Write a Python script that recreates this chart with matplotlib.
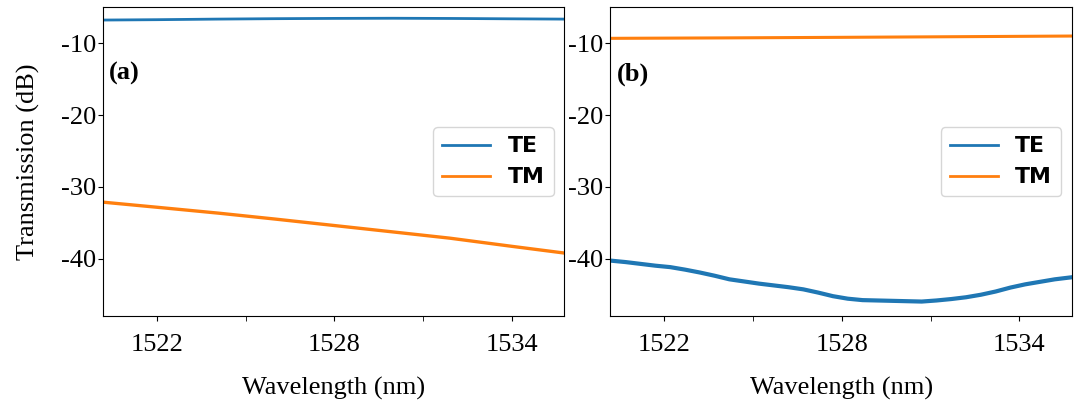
import numpy as np
import matplotlib
matplotlib.use('Agg')
import matplotlib.pyplot as plt

# panel (a)
wl_a = [1520.2, 1522.0, 1524.0, 1526.0, 1528.0, 1530.0, 1532.0, 1534.0, 1535.8]
te_a = [-6.75, -6.70, -6.62, -6.56, -6.52, -6.50, -6.53, -6.58, -6.62]
wl_a_tm = [1520.2, 1522.0, 1524.1, 1526.0, 1528.0, 1530.0, 1531.9, 1534.0, 1535.8]
tm_a = [-32.15, -32.85, -33.68, -34.50, -35.40, -36.30, -37.16, -38.30, -39.25]

# panel (b)
wl_b_tm = [1520.2, 1524.0, 1528.0, 1532.0, 1535.8]
tm_b = [-9.30, -9.24, -9.16, -9.07, -8.98]
wl_b = [1520.2, 1520.7, 1521.2, 1521.7, 1522.2, 1522.7, 1523.2, 1523.7, 1524.2, 1524.7,
        1525.2, 1525.7, 1526.2, 1526.7, 1527.2, 1527.7, 1528.2, 1528.7, 1529.2, 1529.7,
        1530.2, 1530.7, 1531.2, 1531.7, 1532.2, 1532.7, 1533.2, 1533.7, 1534.2, 1534.7,
        1535.2, 1535.8]
te_b = [-40.30, -40.50, -40.75, -41.00, -41.20, -41.55, -41.95, -42.40, -42.90, -43.20,
        -43.50, -43.75, -44.00, -44.30, -44.75, -45.25, -45.60, -45.80, -45.85, -45.90,
        -45.95, -46.00, -45.85, -45.65, -45.40, -45.05, -44.60, -44.05, -43.60, -43.25,
        -42.90, -42.60]

plt.rcParams['axes.unicode_minus'] = False
serif = 'Liberation Serif'

fig, axes = plt.subplots(1, 2, figsize=(10.78, 4.05), dpi=100)
fig.subplots_adjust(left=0.0953, right=0.9944, bottom=0.22, top=0.9815, wspace=0.099)

panels = [
    (axes[0], (wl_a, te_a, 2.0), (wl_a_tm, tm_a, 2.4), '(a)'),
    (axes[1], (wl_b, te_b, 3.0), (wl_b_tm, tm_b, 2.2), '(b)'),
]

for ax, te, tm, tag in panels:
    ax.plot(te[0], te[1], color='#1f77b4', lw=te[2], label='TE')
    ax.plot(tm[0], tm[1], color='#ff7f0e', lw=tm[2], label='TM')
    ax.set_xlim(1520.17, 1535.78)
    ax.set_ylim(-48, -5)
    ax.set_xticks([1522, 1528, 1534])
    ax.set_xticks([1525, 1531], minor=True)
    ax.set_yticks([-10, -20, -30, -40])
    ax.tick_params(which='minor', length=3.5)
    ax.tick_params(axis='x', which='major', pad=9.5)
    ax.tick_params(axis='y', which='major', pad=1.5)
    for lab in ax.get_xticklabels() + ax.get_yticklabels():
        lab.set_fontfamily(serif)
        lab.set_fontsize(19)
    ax.set_xlabel('Wavelength (nm)', fontfamily=serif, fontsize=19, labelpad=15)
    ax.text(0.014, 0.785, tag, transform=ax.transAxes, fontfamily=serif,
            fontsize=19, fontweight='bold', va='center', ha='left')
    ax.legend(loc='center right', prop={'family': 'DejaVu Sans', 'weight': 'bold', 'size': 15.8},
              handlelength=2.2)
    for lg in ax.get_legend().get_lines():
        lg.set_linewidth(2.0)

axes[0].set_ylabel('Transmission (dB)', fontfamily=serif, fontsize=19, labelpad=15)

plt.savefig('out.png')
